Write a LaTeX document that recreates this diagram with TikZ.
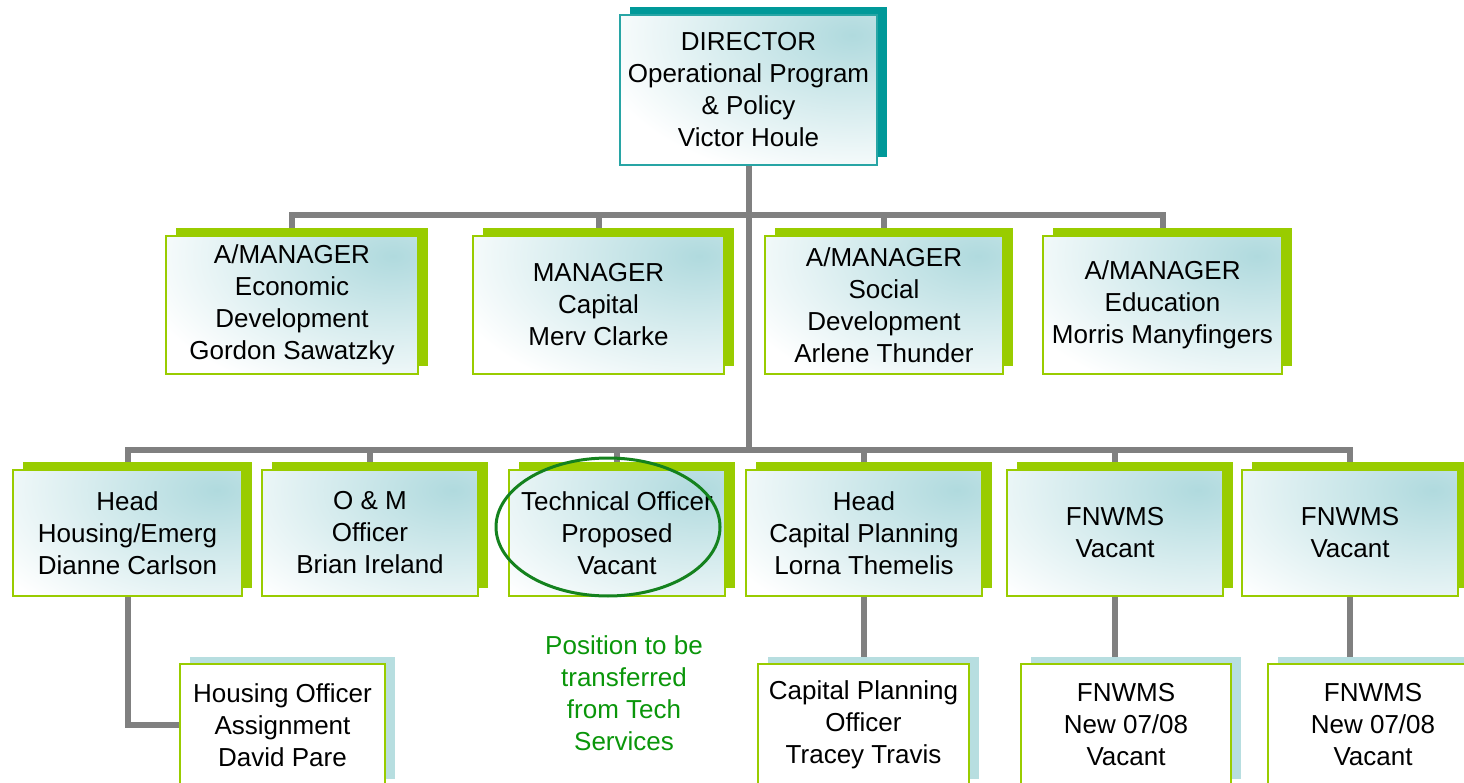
\documentclass[tikz,border=0pt]{standalone}
\usepackage{fontspec}
\setmainfont{Liberation Sans}
\usepackage{tikz}
\usetikzlibrary{shadows}
\pgfdeclarelayer{bg}
\pgfsetlayers{bg,main}
\definecolor{leafgreen}{RGB}{153,204,0}
\definecolor{deepteal}{RGB}{0,153,153}
\definecolor{rimteal}{RGB}{40,165,165}
\definecolor{paleteal}{RGB}{176,218,222}
\definecolor{paleblue}{RGB}{183,222,224}
\definecolor{pipegray}{RGB}{128,128,128}
\definecolor{notegreen}{RGB}{10,150,10}
\definecolor{ringgreen}{RGB}{20,130,30}
\tikzset{
    box/.style={align=center, inner sep=2pt, font=\fontsize{26}{32}\selectfont},
    glow/.style={fill=white, path picture={
        \shade [inner color=paleteal, outer color=white]
            ([xshift=-25pt, yshift=-20pt]path picture bounding box.north east) ellipse [x radius=260pt, y radius=150pt];}},
    dirbox/.style={box, draw=rimteal, line width=2pt, glow,
        drop shadow={fill=deepteal, opacity=1, shadow xshift=10pt, shadow yshift=8pt}},
    mgrbox/.style={box, draw=leafgreen, line width=1.5pt, glow,
        drop shadow={fill=leafgreen, opacity=1, shadow xshift=10pt, shadow yshift=8pt}},
    subbox/.style={box, draw=leafgreen, line width=2pt, fill=white,
        drop shadow={fill=paleblue, opacity=1, shadow xshift=10pt, shadow yshift=7pt}},
    pipe/.style={draw=pipegray, line width=6pt, line join=miter},
}

\begin{document}
\begin{tikzpicture}[x=1pt, y=-1pt]
    \useasboundingbox (0,0) rectangle (1464,783);
    \coordinate (bus1) at (0,215);
    \coordinate (bus2) at (0,450);

    \node [dirbox, minimum width=257pt, minimum height=150pt] (dir) at (748.5,90) { DIRECTOR\\ Operational Program\\ \& Policy\\ Victor Houle };

    % managers
    \node [mgrbox, minimum width=252pt, minimum height=138pt] (econ) at (292,305) { A/MANAGER\\ Economic\\ Development\\ Gordon Sawatzky };
    \node [mgrbox, minimum width=251pt, minimum height=138pt] (cap) at (598.5,305) { MANAGER\\ Capital\\ Merv Clarke };
    \node [mgrbox, minimum width=238pt, minimum height=138pt] (soc) at (884,305) { A/MANAGER\\ Social\\ Development\\ Arlene Thunder };
    \node [mgrbox, minimum width=239pt, minimum height=138pt] (edu) at (1162.5,305) { A/MANAGER\\ Education\\ Morris Manyfingers };

    % second row
    \node [mgrbox, minimum width=229pt, minimum height=126pt] (hous) at (127.5,533) { Head\\ Housing/Emerg\\ Dianne Carlson };
    \node [mgrbox, minimum width=216pt, minimum height=126pt] (om) at (370,533) { O \& M\\ Officer\\ Brian Ireland };
    \node [mgrbox, minimum width=216pt, minimum height=126pt] (tech) at (617,533) { Technical Officer\\ Proposed\\ Vacant };
    \node [mgrbox, minimum width=236pt, minimum height=126pt] (cpl) at (864,533) { Head\\ Capital Planning\\ Lorna Themelis };
    \node [mgrbox, minimum width=216pt, minimum height=126pt] (fn1) at (1115,533) { FNWMS\\ Vacant };
    \node [mgrbox, minimum width=216pt, minimum height=126pt] (fn2) at (1350,533) { FNWMS\\ Vacant };

    % third row
    \node [subbox, minimum width=205pt, minimum height=122pt] (hof) at (282.5,725) { Housing Officer\\ Assignment\\ David Pare };
    \node [subbox, minimum width=211pt, minimum height=122pt] (cpo) at (863.5,725) { Capital Planning\\ Officer\\ Tracey Travis };
    \node [subbox, minimum width=210pt, minimum height=122pt] (fs1) at (1126,725) { FNWMS\\ New 07/08\\ Vacant };
    \node [subbox, minimum width=210pt, minimum height=122pt] (fs2) at (1373,725) { FNWMS\\ New 07/08\\ Vacant };

    \draw [ringgreen, line width=3pt] (608,527) ellipse [x radius=112pt, y radius=69pt];
    \node [box, text=notegreen] (note) at (624,693) { Position to be\\ transferred\\ from Tech\\ Services };

    \begin{pgfonlayer}{bg}
        \draw [pipe] (dir.south) -- (dir.south |- bus2);
        \draw [pipe] (econ.north) -- (econ.north |- bus1) -- (edu.north |- bus1) -- (edu.north);
        \foreach \n in {cap,soc}
            \draw [pipe] (\n.north) -- (\n.north |- bus1);
        \draw [pipe] (hous.north) -- (hous.north |- bus2) -- (fn2.north |- bus2) -- (fn2.north);
        \foreach \n in {om,tech,cpl,fn1}
            \draw [pipe] (\n.north) -- (\n.north |- bus2);
        \draw [pipe] (hous.south) |- (hof.west);
        \draw [pipe] (cpl.south) -- (cpl.south |- cpo.north);
        \draw [pipe] (fn1.south |- fs1.north) -- (fn1.south);
        \draw [pipe] (fn2.south) -- (fn2.south |- fs2.north);
    \end{pgfonlayer}
\end{tikzpicture}
\end{document}
